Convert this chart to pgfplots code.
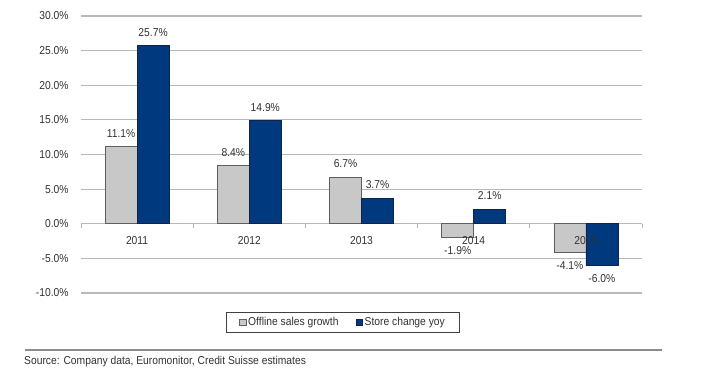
\documentclass[border=0pt]{standalone}
\usepackage{pgfplots}
\pgfplotsset{compat=1.18}
\usepackage{fontspec}
\setmainfont{Liberation Sans}[FakeStretch=0.9]
\definecolor{gbar}{RGB}{200,200,200}
\definecolor{gedge}{RGB}{95,95,95}
\definecolor{nbar}{RGB}{0,57,125}
\definecolor{nedge}{RGB}{15,35,75}
\definecolor{gridc}{RGB}{185,185,185}
\definecolor{txt}{RGB}{50,50,50}
\pgfplotsset{
  layers/mylayers/.define layer set={axis background,axis grid,axis ticks,axis lines,pre main,main,axis tick labels,axis descriptions,axis foreground}{/pgfplots/layers/standard},
}
\begin{document}
\begin{tikzpicture}
\begin{axis}[
  set layers=mylayers,
  at={(81bp,-293bp)}, anchor=south west,
  width=561bp, height=277bp, scale only axis,
  ymin=-10, ymax=30, xmin=-0.5, xmax=4.5,
  ybar=0pt, bar width=32bp,
  axis x line*=middle, axis y line*=left,
  x axis line style={gridc, line width=1.2bp},
  y axis line style={draw=none},
  ymajorgrids, grid style={gridc, line width=1.2bp},
  ytick={-10,-5,...,30},
  major y tick style={draw=none},
  xtick={0,1,2,3,4}, xticklabels={2011,2012,2013,2014,2015},
  major x tick style={draw=none},
  minor xtick={-0.5,0.5,1.5,2.5,3.5,4.5},
  minor x tick style={gridc, line width=1bp},
  minor tick length=4bp, tick align=outside,
  hide obscured x ticks=false,
  /pgf/number format/assume math mode=true,
  yticklabel={\pgfmathprintnumber[fixed,fixed zerofill,precision=1]{\tick}\%},
  tick label style={font=\fontsize{11.5}{13}\selectfont, text=txt},
  yticklabel style={inner sep=0pt, xshift=-8bp},
  xticklabel style={inner sep=0pt, yshift=-8bp},
  nodes near coords={\pgfmathprintnumber[fixed,fixed zerofill,precision=1]{\pgfplotspointmeta}\%},
  nodes near coords align={vertical},
  every node near coord/.append style={font=\fontsize{11.5}{13}\selectfont, text=txt, inner xsep=0pt, inner ysep=9bp},
  legend style={at={(0.467,-0.1065)}, anchor=center, legend columns=2,
    draw=black!75, line width=1bp, inner xsep=13bp, inner ysep=3bp,
    font=\fontsize{11.5}{13}\selectfont, text=txt,
    /tikz/every even column/.append style={column sep=15bp}},
  legend cell align=left,
  legend image code/.code={\draw[#1, line width=0.6bp] (0bp,-3.2bp) rectangle (6.5bp,3.2bp);},
]
\addplot[fill=gbar, draw=gedge, line width=0.8bp] coordinates {(0,11.1) (1,8.4) (2,6.7) (3,-1.9) (4,-4.1)};
\addlegendentry{Offline sales growth}
\addplot[fill=nbar, draw=nedge, line width=0.8bp] coordinates {(0,25.7) (1,14.9) (2,3.7) (3,2.1) (4,-6.0)};
\addlegendentry{Store change yoy}
\end{axis}
\draw[color=black!45, line width=1.5bp] (25bp,-350bp) -- (662bp,-350bp);
\node[anchor=west, inner sep=0pt, font=\fontsize{11.5}{13}\selectfont, text=txt] at (24bp,-362bp) {Source: Company data, Euromonitor, Credit Suisse estimates};
\path (0bp,0bp) rectangle (706bp,-371bp);
\end{tikzpicture}
\end{document}
